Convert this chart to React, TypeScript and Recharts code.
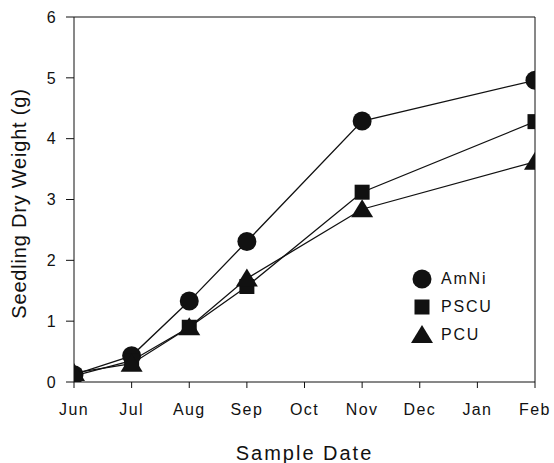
import { LineChart, Line, XAxis, YAxis, Legend, ReferenceLine } from 'recharts';

const months = ['Jun', 'Jul', 'Aug', 'Sep', 'Oct', 'Nov', 'Dec', 'Jan', 'Feb'];
const amni = [0.12, 0.43, 1.33, 2.31, null, 4.29, null, null, 4.96];
const pscu = [0.1, 0.35, 0.9, 1.57, null, 3.12, null, null, 4.28];
const pcu = [0.15, 0.3, 0.9, 1.7, null, 2.84, null, null, 3.62];
const yTicks = [0, 1, 2, 3, 4, 5, 6];
const seriesNames = ['AmNi', 'PSCU', 'PCU'];

const data = months.map((m, i) => ({ month: m, AmNi: amni[i], PSCU: pscu[i], PCU: pcu[i] }));

const INK = '#111';
const FONT = 'Liberation Sans, Arial, sans-serif';

function marker(name: string, cx: number, cy: number, key: string) {
  if (name === 'AmNi') return <circle key={key} cx={cx} cy={cy} r={9.5} fill={INK} />;
  if (name === 'PSCU') return <rect key={key} x={cx - 7.5} y={cy - 7.5} width={15} height={15} fill={INK} />;
  const pts = `${cx},${cy - 10} ${cx + 11},${cy + 8} ${cx - 11},${cy + 8}`;
  return <polygon key={key} points={pts} fill={INK} />;
}

function makeDot(name: string) {
  return (props: any) => {
    const { cx, cy, index, value } = props;
    if (cx == null || cy == null || value == null) return <g key={`${name}${index}`} />;
    return marker(name, cx, cy, `${name}${index}`);
  };
}

// legend sits inside the plot, lower right
function LegendBox() {
  return (
    <div style={{ fontFamily: FONT, fontSize: 16, letterSpacing: 1.8, color: INK }}>
      {seriesNames.map((name) => (
        <div key={name} style={{ display: 'flex', alignItems: 'center', height: 28 }}>
          <svg width={24} height={24} style={{ marginRight: 7 }}>
            {marker(name, 12, 12, name)}
          </svg>
          <span>{name}</span>
        </div>
      ))}
    </div>
  );
}

const tickStyle = { fontSize: 16, fill: INK, fontFamily: FONT, letterSpacing: 1.4 };

export default function App() {
  return (
    <div style={{ position: 'absolute', left: 0, top: 0, background: '#fff', fontFamily: FONT }}>
      <LineChart width={554} height={463} data={data} margin={{ top: 17, right: 19, left: 0, bottom: 0 }}>
        <XAxis
          dataKey="month"
          height={81}
          tick={tickStyle}
          tickSize={6}
          tickMargin={16}
          stroke={INK}
          interval={0}
          allowDataOverflow
          label={{ value: 'Sample Date', position: 'insideBottom', offset: 3, style: { fontSize: 20, letterSpacing: 2, fill: INK, fontFamily: FONT } }}
        />
        <YAxis
          domain={[0, 6]}
          ticks={yTicks}
          allowDataOverflow
          width={74}
          tick={tickStyle}
          tickSize={8}
          tickMargin={9}
          stroke={INK}
          label={{ value: 'Seedling Dry Weight (g)', angle: -90, position: 'insideLeft', offset: 19, dy: 4, style: { fontSize: 20, letterSpacing: 0.8, fill: INK, textAnchor: 'middle', fontFamily: FONT } }}
        />
        <ReferenceLine y={6} stroke={INK} strokeWidth={1} />
        <ReferenceLine x="Feb" stroke={INK} strokeWidth={1} />
        <Legend
          layout="horizontal"
          verticalAlign="middle"
          align="center"
          content={<LegendBox />}
          wrapperStyle={{ left: 410, top: 265, width: 120 }}
        />
        {seriesNames.map((name) => (
          <Line
            key={name}
            dataKey={name}
            stroke={INK}
            strokeWidth={1.3}
            connectNulls
            dot={makeDot(name)}
            activeDot={false}
            isAnimationActive={false}
          />
        ))}
      </LineChart>
    </div>
  );
}
